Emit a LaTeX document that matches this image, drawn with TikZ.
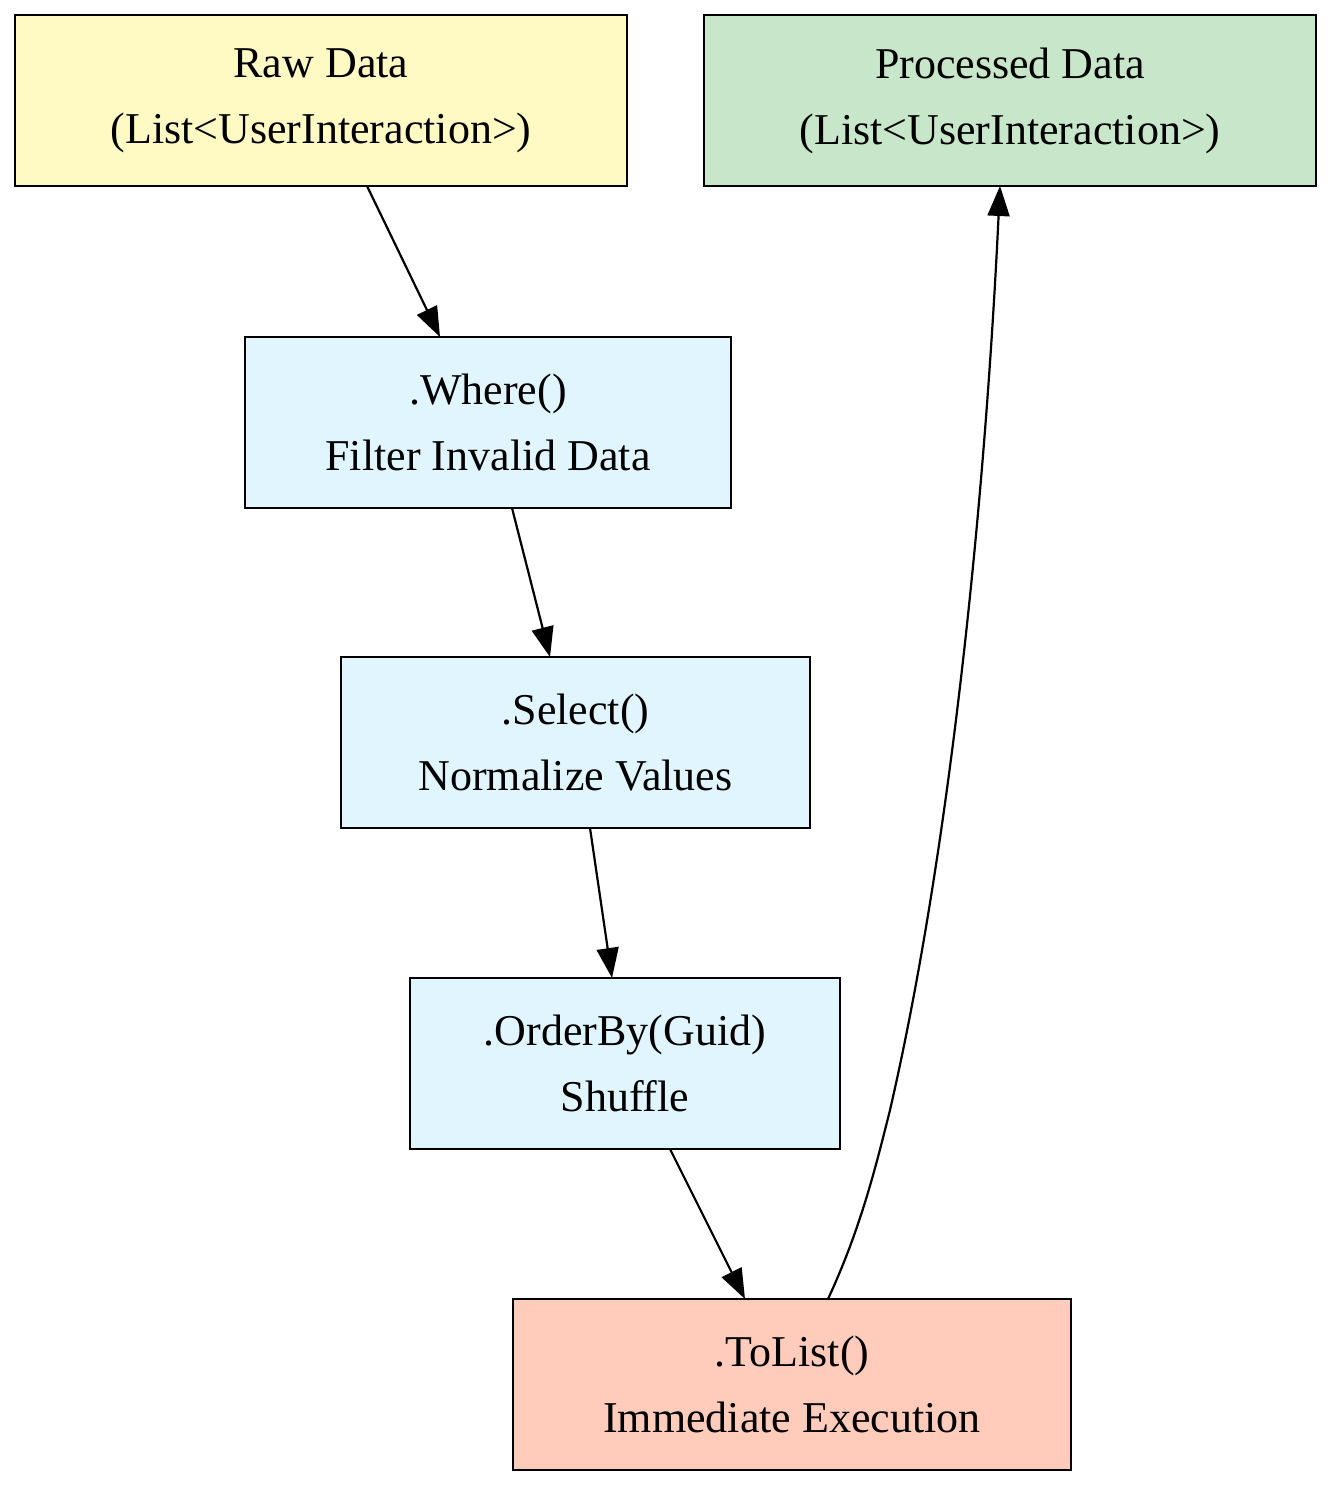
\documentclass[tikz,border=0pt]{standalone}
\usepackage{fontspec}
\setmainfont{Liberation Serif}
\usetikzlibrary{arrows.meta}
\definecolor{cy}{HTML}{FFF9C4}
\definecolor{cg}{HTML}{C8E6C9}
\definecolor{cb}{HTML}{E1F5FE}
\definecolor{co}{HTML}{FFCCBC}
\begin{document}
\begin{tikzpicture}[x=1pt,y=-1pt,
  box/.style={draw,line width=2.2pt,align=center,font=\fontsize{44}{66}\selectfont,inner sep=0pt},
  arr/.style={line width=2.2pt,-{Triangle[length=30pt,width=22pt]}}]
\useasboundingbox (0,0) rectangle (1331,1488);
\node[box,fill=cy,minimum width=612pt,minimum height=171pt] (raw) at (321,100.5) {Raw Data\\(List<UserInteraction>)};
\node[box,fill=cg,minimum width=612pt,minimum height=171pt] (proc) at (1010,100.5) {Processed Data\\(List<UserInteraction>)};
\node[box,fill=cb,minimum width=486pt,minimum height=171pt] (where) at (488,422.5) {.Where()\\Filter Invalid Data};
\node[box,fill=cb,minimum width=469pt,minimum height=171pt] (sel) at (575.5,742.5) {.Select()\\Normalize Values};
\node[box,fill=cb,minimum width=430pt,minimum height=171pt] (ord) at (625,1063.5) {.OrderBy(Guid)\\Shuffle};
\node[box,fill=co,minimum width=558pt,minimum height=171pt] (tl) at (792,1384.5) {.ToList()\\Immediate Execution};
\coordinate (a1) at (367,186); \coordinate (b1) at (440,337);
\coordinate (a2) at (512,508); \coordinate (b2) at (550,657);
\coordinate (a3) at (590,828); \coordinate (b3) at (612,978);
\coordinate (a4) at (670,1149); \coordinate (b4) at (745,1299);
\coordinate (a5) at (828,1299); \coordinate (b5) at (1000,186);
\draw[arr] (a1) -- (b1);
\draw[arr] (a2) -- (b2);
\draw[arr] (a3) -- (b3);
\draw[arr] (a4) -- (b4);
\draw[arr] (a5) .. controls (860,1230) and (875,1170) .. (890,1110) .. controls (950,850) and (985,500) .. (b5);
\end{tikzpicture}
\end{document}
